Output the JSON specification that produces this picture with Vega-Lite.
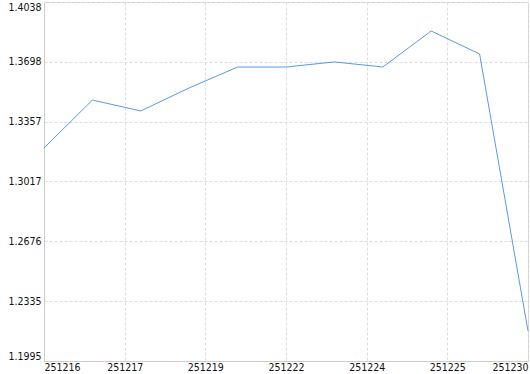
{
  "$schema": "https://vega.github.io/schema/vega-lite/v6.json",
  "width": 484,
  "height": 359,
  "autosize": "none",
  "padding": {"left": 44, "top": 2, "right": 2, "bottom": 13},
  "background": "white",
  "config": {
    "view": {"stroke": "#cccccc", "strokeWidth": 1},
    "font": "DejaVu Sans Condensed"
  },
  "data": {
    "values": [
      {"i": 0, "v": 1.3207},
      {"i": 1, "v": 1.3480},
      {"i": 2, "v": 1.3418},
      {"i": 3, "v": 1.3549},
      {"i": 4, "v": 1.3668},
      {"i": 5, "v": 1.3668},
      {"i": 6, "v": 1.3697},
      {"i": 7, "v": 1.3668},
      {"i": 8, "v": 1.3873},
      {"i": 9, "v": 1.3742},
      {"i": 10, "v": 1.2166}
    ]
  },
  "mark": {"type": "line", "color": "#5b97ea", "strokeWidth": 1},
  "encoding": {
    "x": {
      "field": "i",
      "type": "quantitative",
      "scale": {"domain": [0, 10], "nice": false, "zero": false},
      "axis": {
        "title": null,
        "values": [0, 1.6667, 3.3333, 5, 6.6667, 8.3333, 10],
        "labelExpr": "datum.value < 0.5 ? '251216' : datum.value < 2 ? '251217' : datum.value < 4 ? '251219' : datum.value < 5.5 ? '251222' : datum.value < 7 ? '251224' : datum.value < 9 ? '251225' : '251230'",
        "labelFlush": true,
        "labelFontSize": 10.5,
        "labelColor": "#111111",
        "labelPadding": 1,
        "ticks": false,
        "domainColor": "#cccccc",
        "gridColor": "#dddddd",
        "gridDash": [3, 2],
        "labelOverlap": false
      }
    },
    "y": {
      "field": "v",
      "type": "quantitative",
      "scale": {"domain": [1.1995, 1.4038], "nice": false, "zero": false},
      "axis": {
        "title": null,
        "values": [1.1995, 1.2335, 1.2676, 1.3017, 1.3357, 1.3698, 1.4038],
        "format": ".4f",
        "labelFlush": true,
        "labelFontSize": 10.5,
        "labelColor": "#111111",
        "labelPadding": 3,
        "ticks": false,
        "domainColor": "#cccccc",
        "gridColor": "#dddddd",
        "gridDash": [3, 2],
        "labelOverlap": false
      }
    }
  }
}
